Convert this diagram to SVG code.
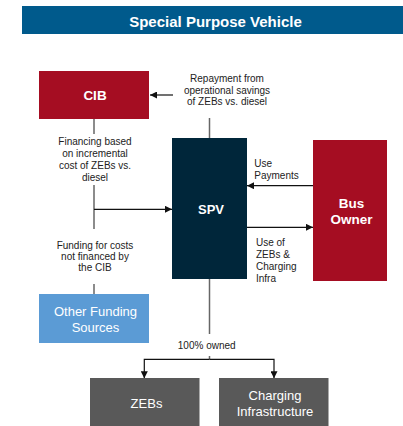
<svg xmlns="http://www.w3.org/2000/svg" width="403" height="426" viewBox="0 0 403 426">
  <defs>
    <marker id="arrow" viewBox="0 0 8 8" refX="8" refY="4" markerWidth="7" markerHeight="7" markerUnits="userSpaceOnUse" orient="auto">
      <path d="M0,0 L8,4 L0,8 Z" fill="#111"/>
    </marker>
    <style>
      .label { font-family: "Liberation Sans", Arial, sans-serif; font-size: 10px; fill: #222; }
      .mid { text-anchor: middle; }
      .boxtxt { font-family: "Liberation Sans", Arial, sans-serif; fill: #fff; text-anchor: middle; }
      .bold { font-weight: bold; }
      .arrow { stroke: #111; stroke-width: 1.2; fill: none; marker-end: url(#arrow); }
      .link { stroke: #666; stroke-width: 1.5; fill: none; }
      .red { fill: #a50d22; }
    </style>
  </defs>

  <rect width="403" height="426" fill="#fff"/>

  <!-- title banner -->
  <g id="title">
    <rect x="22" y="6" width="381" height="28" fill="#005a8c"/>
    <text x="215.5" y="26.5" class="boxtxt bold" font-size="15">Special Purpose Vehicle</text>
  </g>

  <!-- connectors -->
  <g id="connectors">
    <line class="arrow" x1="173" y1="95" x2="150" y2="95"/>
    <line class="link" x1="209.5" y1="118" x2="209.5" y2="138"/>
    <line class="link" x1="94" y1="119" x2="94" y2="134"/>
    <line class="link" x1="94" y1="185" x2="94" y2="229"/>
    <line class="arrow" x1="94" y1="209.3" x2="172" y2="209.3"/>
    <line class="link" x1="94" y1="284" x2="94" y2="294"/>
    <line class="arrow" x1="313" y1="185.7" x2="247" y2="185.7"/>
    <line class="arrow" x1="247" y1="227.3" x2="313" y2="227.3"/>
    <line class="link" x1="209.5" y1="279" x2="209.5" y2="334" stroke="#222"/>
    <line class="link" x1="209.5" y1="356" x2="209.5" y2="359.3" stroke="#222"/>
    <polyline class="arrow" points="209.5,359.3 144.3,359.3 144.3,378.3"/>
    <polyline class="arrow" points="209.5,359.3 274,359.3 274,378.3"/>
  </g>

  <!-- connector labels -->
  <g id="labels">
    <text class="label mid" x="227" y="82.3">Repayment from</text>
    <text class="label mid" x="227" y="93.8">operational savings</text>
    <text class="label mid" x="227" y="105.3">of ZEBs vs. diesel</text>

    <text class="label mid" x="95" y="145">Financing based</text>
    <text class="label mid" x="95" y="157">on incremental</text>
    <text class="label mid" x="95" y="169">cost of ZEBs vs.</text>
    <text class="label mid" x="95" y="181">diesel</text>

    <text class="label mid" x="95" y="249">Funding for costs</text>
    <text class="label mid" x="95" y="260">not financed by</text>
    <text class="label mid" x="95" y="271">the CIB</text>

    <text class="label" x="254.3" y="167.3">Use</text>
    <text class="label" x="254.3" y="179">Payments</text>

    <text class="label" x="256" y="246">Use of</text>
    <text class="label" x="256" y="258">ZEBs &amp;</text>
    <text class="label" x="256" y="270">Charging</text>
    <text class="label" x="256" y="281.5">Infra</text>

    <text class="label mid" x="206.7" y="348.7" font-size="9.5">100% owned</text>
  </g>

  <!-- nodes -->
  <g id="cib">
    <rect class="red" x="39" y="71" width="110" height="48"/>
    <text class="boxtxt bold" x="95" y="100" font-size="13.5">CIB</text>
  </g>

  <g id="spv">
    <rect x="172" y="138" width="75" height="141" fill="#00263a"/>
    <text class="boxtxt bold" x="211" y="214.3" font-size="13">SPV</text>
  </g>

  <g id="bus-owner">
    <rect class="red" x="313" y="140" width="74" height="141"/>
    <text class="boxtxt bold" x="351.5" y="208.3" font-size="13.5">Bus</text>
    <text class="boxtxt bold" x="351.5" y="224.3" font-size="13.5">Owner</text>
  </g>

  <g id="other-funding">
    <rect x="39" y="294" width="110" height="49" fill="#5b9bd5"/>
    <text class="boxtxt" x="95.5" y="316" font-size="13">Other Funding</text>
    <text class="boxtxt" x="95.5" y="332" font-size="13">Sources</text>
  </g>

  <g id="zebs">
    <rect x="90" y="378" width="109.5" height="48" fill="#595959"/>
    <text class="boxtxt" x="146.5" y="407.7" font-size="13">ZEBs</text>
  </g>

  <g id="charging">
    <rect x="219" y="378" width="109.5" height="48" fill="#595959"/>
    <text class="boxtxt" x="275" y="400" font-size="13">Charging</text>
    <text class="boxtxt" x="275" y="415.7" font-size="13">Infrastructure</text>
  </g>
</svg>
